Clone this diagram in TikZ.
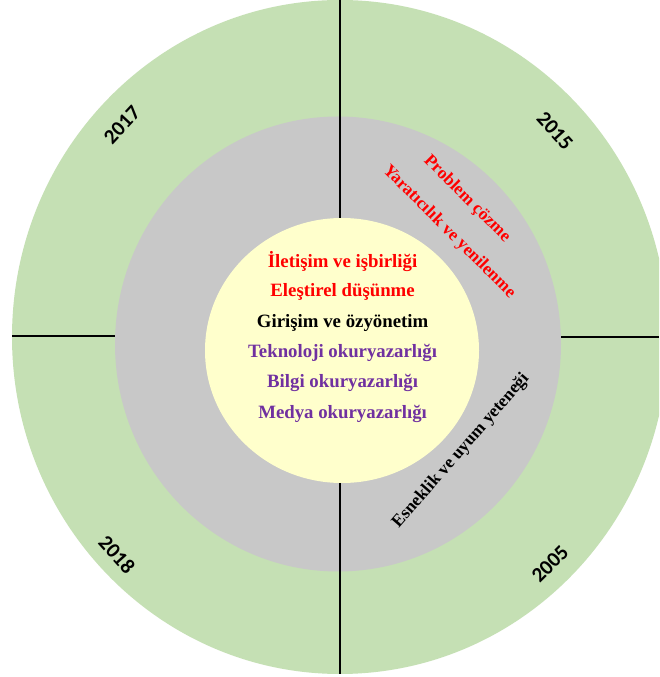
\documentclass[tikz,border=0pt]{standalone}
\usepackage{fontspec}
\setmainfont{Liberation Serif}
\newfontfamily\yearfont{Carlito}
\definecolor{ringgreen}{RGB}{197,224,180}
\definecolor{ringgray}{RGB}{200,200,200}
\definecolor{coreyellow}{RGB}{255,255,204}
\definecolor{skillpurple}{RGB}{112,48,160}
\begin{document}
\begin{tikzpicture}[x=1pt, y=1pt, line join=round,
  yearlbl/.style={font=\yearfont\bfseries\fontsize{21}{23}\selectfont},
  skill/.style={font=\bfseries\fontsize{18.8}{21}\selectfont},
  ringskill/.style={font=\bfseries\fontsize{17.5}{19}\selectfont}]
	\clip (0,0) rectangle (659,677);
	\fill[white] (0,0) rectangle (659,677);
	% rings
	\fill[ringgreen] (340,340) ellipse (328 and 337);
	\fill[ringgray] (338,333) ellipse (223 and 227.5);
	\fill[coreyellow] (342,326.5) ellipse (137 and 132.5);
	% quadrant lines
	\coordinate (topA) at (340,677);
	\coordinate (topB) at (340,459);
	\coordinate (botA) at (340,194);
	\coordinate (botB) at (340,3);
	\coordinate (leftA) at (12,341);
	\coordinate (leftB) at (115,341);
	\coordinate (rightA) at (561,340);
	\coordinate (rightB) at (659,340);
	\draw[line width=1.2pt] (topA) -- (topB);
	\draw[line width=1.2pt] (botA) -- (botB);
	\draw[line width=1.2pt] (leftA) -- (leftB);
	\draw[line width=1.2pt] (rightA) -- (rightB);
	% years
	\node (y2017) at (122,552) [yearlbl, rotate=47] {2017};
	\node (y2015) at (555,546) [yearlbl, rotate=-48] {2015};
	\node (y2018) at (117,122) [yearlbl, rotate=-48] {2018};
	\node (y2005) at (550,113) [yearlbl, rotate=45] {2005};
	% skills in the gray ring
	\node (problem) at (467,478) [ringskill, red, rotate=-45, inner sep=0pt] {Problem çözme};
	\node (yaratici) at (449,445) [ringskill, red, rotate=-45, inner sep=0pt] {Yaratıcılık ve yenilenme};
	\node (esneklik) at (461,226) [ringskill, black, rotate=49] {Esneklik ve uyum yeteneği};
	% skills in the core
	\node (iletisim) at (342.6,415.3) [skill, red] {İletişim ve işbirliği};
	\node (elestirel) at (342.6,384.6) [skill, red] {Eleştirel düşünme};
	\node (girisim) at (342.6,354.2) [skill, black] {Girişim ve özyönetim};
	\node (teknoloji) at (342.6,324.2) [skill, skillpurple] {Teknoloji okuryazarlığı};
	\node (bilgi) at (342.6,294) [skill, skillpurple] {Bilgi okuryazarlığı};
	\node (medya) at (342.6,263.5) [skill, skillpurple] {Medya okuryazarlığı};
\end{tikzpicture}
\end{document}
